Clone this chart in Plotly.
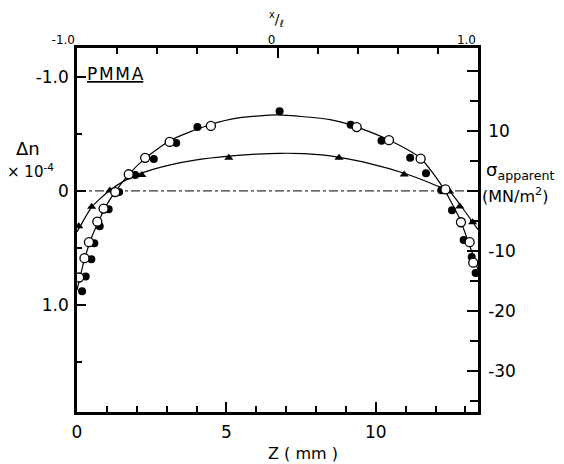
import plotly.graph_objects as go

# ---- data ----
# filled circles: Z (mm), delta n (x1e-4)
filled_z = [0.17, 0.29, 0.48, 0.58, 0.76, 1.06, 1.41, 1.95, 2.57, 3.32, 4.03, 6.78,
            9.16, 10.19, 11.15, 11.68, 12.19, 12.55, 12.94, 13.21, 13.34]
filled_dn = [0.88, 0.75, 0.60, 0.46, 0.31, 0.16, 0.01, -0.14, -0.28, -0.42, -0.56, -0.70,
             -0.58, -0.44, -0.29, -0.155, -0.006, 0.17, 0.43, 0.58, 0.72]
# open circles
open_z = [0.07, 0.25, 0.40, 0.68, 0.89, 1.28, 1.73, 2.28, 3.10, 4.48,
          9.36, 10.44, 11.50, 12.33, 12.85, 13.14, 13.26]
open_dn = [0.76, 0.59, 0.45, 0.27, 0.155, 0.01, -0.146, -0.29, -0.43, -0.57,
           -0.56, -0.445, -0.283, -0.013, 0.275, 0.45, 0.63]
# triangles
tri_z = [0.06, 0.49, 1.10, 1.88, 2.17, 5.08, 8.77, 10.95, 12.47, 12.81, 13.24]
tri_dn = [0.31, 0.14, -0.004, -0.134, -0.14, -0.29, -0.29, -0.145, 0.006, 0.136, 0.276]

# fitted curves
outer_z = [0.0, 0.25, 0.5, 0.75, 1.0, 1.3, 1.75, 2.3, 3.1, 3.8, 4.5, 5.35, 6.7,
           8.47, 9.34, 10.44, 11.5, 12.26, 12.8, 13.1, 13.42]
outer_dn = [0.87, 0.60, 0.40, 0.25, 0.12, 0.0, -0.15, -0.29, -0.44, -0.52, -0.585, -0.638, -0.667,
            -0.625, -0.564, -0.447, -0.287, -0.024, 0.24, 0.45, 0.69]
inner_z = [0.0, 0.5, 1.1, 1.6, 2.2, 3.12, 4.0, 5.08, 6.0, 6.78, 7.6, 8.47, 9.8, 10.95,
           12.0, 12.47, 12.9, 13.42]
inner_dn = [0.36, 0.14, -0.005, -0.09, -0.16, -0.228, -0.272, -0.305, -0.322, -0.33, -0.327, -0.307,
            -0.24, -0.155, -0.05, 0.005, 0.15, 0.34]

z_range = [0, 13.42]
dn_range = [1.94, -1.254]
sigma_range = [-36.8, 23.8]
xl_range = [-1, 1]

FONT = "DejaVu Sans"
BLACK = "black"

# plot-area pixel box
L, R, T, B = 77, 478, 48, 412

fig = go.Figure()

# zero reference line
fig.add_trace(go.Scatter(x=z_range, y=[0, 0], mode="lines",
                         line=dict(color=BLACK, width=1, dash="dashdot"),
                         hoverinfo="skip", showlegend=False))
# curves
for zz, dd in [(outer_z, outer_dn), (inner_z, inner_dn)]:
    fig.add_trace(go.Scatter(x=zz, y=dd, mode="lines",
                             line=dict(color=BLACK, width=1.2, shape="spline", smoothing=0.6),
                             showlegend=False))
# markers
fig.add_trace(go.Scatter(x=tri_z, y=tri_dn, mode="markers",
                         marker=dict(symbol="triangle-up", size=8, color=BLACK),
                         showlegend=False))
fig.add_trace(go.Scatter(x=filled_z, y=filled_dn, mode="markers",
                         marker=dict(symbol="circle", size=8, color=BLACK),
                         showlegend=False))
fig.add_trace(go.Scatter(x=open_z, y=open_dn, mode="markers",
                         marker=dict(symbol="circle", size=9, color="white",
                                     line=dict(color=BLACK, width=1.3)),
                         showlegend=False))
# invisible traces to bind secondary axes
fig.add_trace(go.Scatter(x=xl_range, y=[0, 0], xaxis="x2", yaxis="y", mode="markers",
                         marker=dict(opacity=0), hoverinfo="skip", showlegend=False))
fig.add_trace(go.Scatter(x=z_range, y=[0, 0], xaxis="x", yaxis="y2", mode="markers",
                         marker=dict(opacity=0), hoverinfo="skip", showlegend=False))

axis_common = dict(showline=True, linecolor=BLACK, linewidth=2.5, mirror=False,
                   showgrid=False, zeroline=False, ticks="inside", tickcolor=BLACK,
                   tickwidth=1.5, tickfont=dict(family=FONT, size=17, color=BLACK))

fig.update_layout(
    width=564, height=464,
    margin=dict(l=L, r=564 - R, t=T, b=464 - B),
    paper_bgcolor="white", plot_bgcolor="white",
    font=dict(family=FONT, color=BLACK),
    xaxis=dict(range=z_range, tickvals=[0, 5, 10], ticktext=["0", "5", "10"], ticklen=10,
               minor=dict(dtick=1, tick0=0, ticklen=6, ticks="inside", tickcolor=BLACK, tickwidth=1.5),
               ticklabelstandoff=3, **axis_common),
    xaxis2=dict(range=xl_range, overlaying="x", side="top", anchor="y",
                tickvals=[-1, 0, 1], ticktext=["-1.0", "0", "1.0"], ticklen=10,
                ticklabelposition="outside left", ticklabelstandoff=-4,
                minor=dict(dtick=0.2, tick0=0, ticklen=6, ticks="inside", tickcolor=BLACK, tickwidth=1.5),
                **{**axis_common, "tickfont": dict(family=FONT, size=12, color=BLACK)}),
    yaxis=dict(range=dn_range, tickvals=[-1, 0, 1], ticktext=["-1.0", "0", "1.0"], ticklen=9,
               minor=dict(dtick=0.5, tick0=0, ticklen=5, ticks="inside", tickcolor=BLACK, tickwidth=1.5),
               ticklabelstandoff=2, **axis_common),
    yaxis2=dict(range=sigma_range, overlaying="y", side="right", anchor="x",
                tickvals=[-30, -20, -10, 0, 10, 20], ticktext=["-30", "-20", "-10", "", "10", ""],
                ticklen=11,
                minor=dict(dtick=5, tick0=0, ticklen=8, ticks="inside", tickcolor=BLACK, tickwidth=1.5),
                ticklabelstandoff=4, **axis_common),
)


def px_x(p):
    return (p - L) / float(R - L)


def px_y(p):
    return (B - p) / float(B - T)


annotations = [
    dict(text="<sup>x</sup>/<sub>ℓ</sub>", x=px_x(276), y=px_y(19), font=dict(size=14)),
    dict(text="<u>P\u200aM\u200aM\u200aA</u>", x=px_x(85), y=px_y(74), xanchor="left", font=dict(size=17)),
    dict(text="Δn", x=px_x(28), y=px_y(148), font=dict(size=18)),
    dict(text="× 10<sup>-4</sup>", x=px_x(30), y=px_y(171), font=dict(size=15)),
    dict(text="σ<sub>apparent</sub>", x=px_x(484), y=px_y(171), xanchor="left", font=dict(size=18)),
    dict(text="(MN/m<sup>2</sup>)", x=px_x(480), y=px_y(195), xanchor="left", font=dict(size=16)),
    dict(text="Z ( mm )", x=px_x(303), y=px_y(453), font=dict(size=16)),
]
for a in annotations:
    a.setdefault("xanchor", "center")
    a.update(xref="paper", yref="paper", showarrow=False, yanchor="middle")
    a["font"].update(family=FONT, color=BLACK)
    fig.add_annotation(**a)

fig.write_html("out.html")
